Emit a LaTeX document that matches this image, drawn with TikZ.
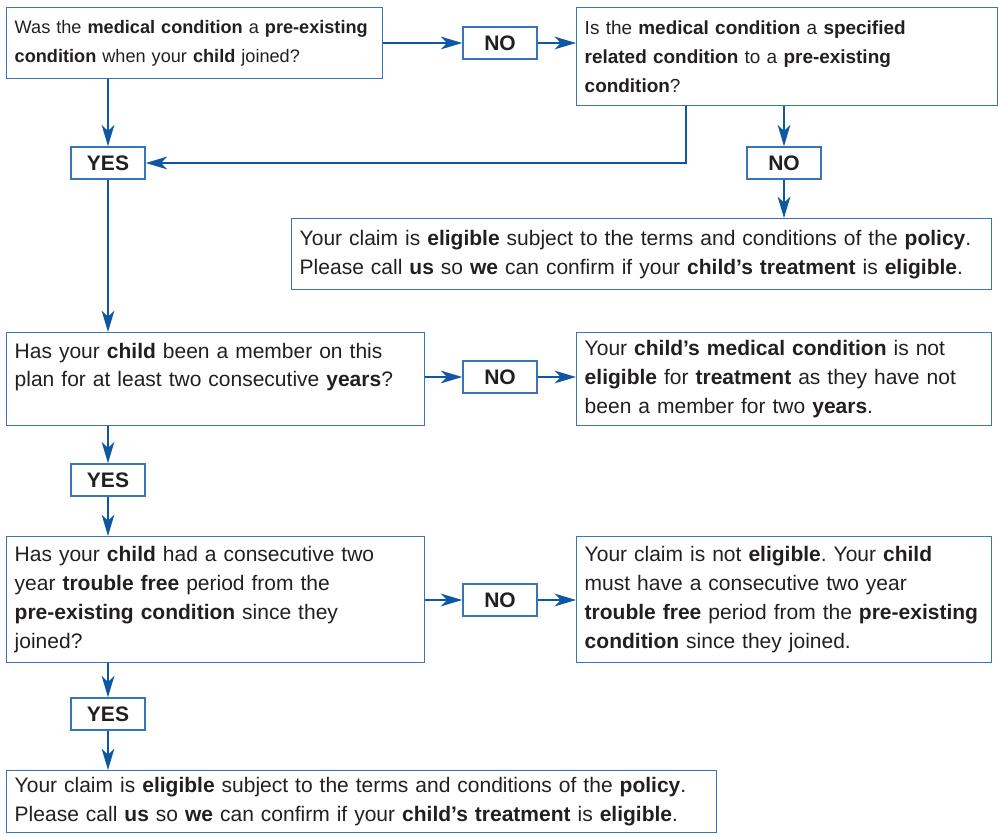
\documentclass[tikz,border=0pt]{standalone}
\usepackage{fontspec}
\setsansfont{Liberation Sans}
\usepackage{xcolor}
\usepackage{tikz}
\usetikzlibrary{arrows.meta,positioning,calc}
\definecolor{flowblue}{HTML}{0F57A3}
\definecolor{boxblue}{HTML}{3A74B8}
\definecolor{ink}{HTML}{231F20}
\frenchspacing

\begin{document}
\begin{tikzpicture}[x=0.75pt,y=-0.75pt,
  font=\sffamily\fontsize{15.75}{21.6}\selectfont,text=ink,
  qbox/.style={draw=boxblue,line width=1.1pt,anchor=north west,align=left,
    inner xsep=6pt,inner ysep=0pt,text width=#1-12pt},
  topq/.style={font=\sffamily\fontsize{#1}{21.4}\selectfont},
  ansbox/.style={draw=boxblue,line width=1.1pt,font=\sffamily\bfseries\fontsize{15.75}{16}\selectfont,
    minimum width=55.5pt,minimum height=24pt,inner sep=0pt},
  flow/.style={flowblue,line width=1.2pt,-{Stealth[length=16pt,width=9.5pt,inset=4.5pt]}}]
  \useasboundingbox (0,0) rectangle (998,837);

  \node[qbox=282pt,topq=13.6,minimum height=53.25pt] (ask1) at (6,7)
    {\mbox{Was the \textbf{medical condition} a \textbf{pre-existing}}\\
     \textbf{condition} when your \textbf{child} joined?};
  \node[ansbox] (no1) at (500,43) {NO};
  \node[qbox=315.75pt,topq=14.2,minimum height=73.5pt] (ask2) at (576,7)
    {Is the \textbf{medical condition} a \textbf{specified}\\
     \textbf{related condition} to a \textbf{pre-existing}\\
     \textbf{condition}?};
  \node[ansbox] (yes1) at (108,163) {YES};
  \node[ansbox] (no2) at (784,163) {NO};
  \node[qbox=525pt,minimum height=53.25pt] (ok1) at (291,218)
    {Your claim is \textbf{eligible} subject to the terms and conditions of the \textbf{policy}.\\
     Please call \textbf{us} so \textbf{we} can confirm if your \textbf{child’s treatment} is \textbf{eligible}.};

  \node[qbox=313.5pt,minimum height=69.75pt] (ask3) at (6,332)
    {Has your \textbf{child} been a member on this\\
     plan for at least two consecutive \textbf{years}?\\ \mbox{}};
  \node[ansbox] (no3) at (500,377) {NO};
  \node[qbox=311.25pt,minimum height=69.75pt] (nope1) at (576,332)
    {Your \textbf{child’s medical condition} is not\\
     \textbf{eligible} for \textbf{treatment} as they have not\\
     been a member for two \textbf{years}.};
  \node[ansbox] (yes2) at (108,480) {YES};

  \node[qbox=313.5pt,minimum height=94.5pt] (ask4) at (6,536)
    {Has your \textbf{child} had a consecutive two\\
     year \textbf{trouble free} period from the\\
     \textbf{pre-existing condition} since they\\
     joined?};
  \node[ansbox] (no4) at (500,600) {NO};
  \node[qbox=311.25pt,minimum height=94.5pt] (nope2) at (576,536)
    {Your claim is not \textbf{eligible}. Your \textbf{child}\\
     must have a consecutive two year\\
     \mbox{\textbf{trouble free} period from the \textbf{pre-existing}}\\
     \textbf{condition} since they joined.};
  \node[ansbox] (yes3) at (108,714) {YES};
  \node[qbox=532.5pt,minimum height=46.5pt] (ok2) at (6,770)
    {Your claim is \textbf{eligible} subject to the terms and conditions of the \textbf{policy}.\\
     Please call \textbf{us} so \textbf{we} can confirm if your \textbf{child’s treatment} is \textbf{eligible}.};

  \draw[flow] (no1.west -| ask1.east) -- (no1.west);
  \draw[flow] (no1.east) -- (no1.east -| ask2.west);
  \draw[flow] (yes1.north |- ask1.south) -- (yes1.north);
  \draw[flow] ([xshift=82.5pt]ask2.south west) |- (yes1.east);
  \draw[flow] (no2.north |- ask2.south) -- (no2.north);
  \draw[flow] (no2.south) -- (no2.south |- ok1.north);
  \draw[flow] (yes1.south) -- (yes1.south |- ask3.north);
  \foreach \q/\a/\r in {ask3/no3/nope1,ask4/no4/nope2}{
    \draw[flow] (\a.west -| \q.east) -- (\a.west);
    \draw[flow] (\a.east) -- (\a.east -| \r.west);
  }
  \foreach \q/\a/\r in {ask3/yes2/ask4,ask4/yes3/ok2}{
    \draw[flow] (\a.north |- \q.south) -- (\a.north);
    \draw[flow] (\a.south) -- (\a.south |- \r.north);
  }
\end{tikzpicture}
\end{document}
